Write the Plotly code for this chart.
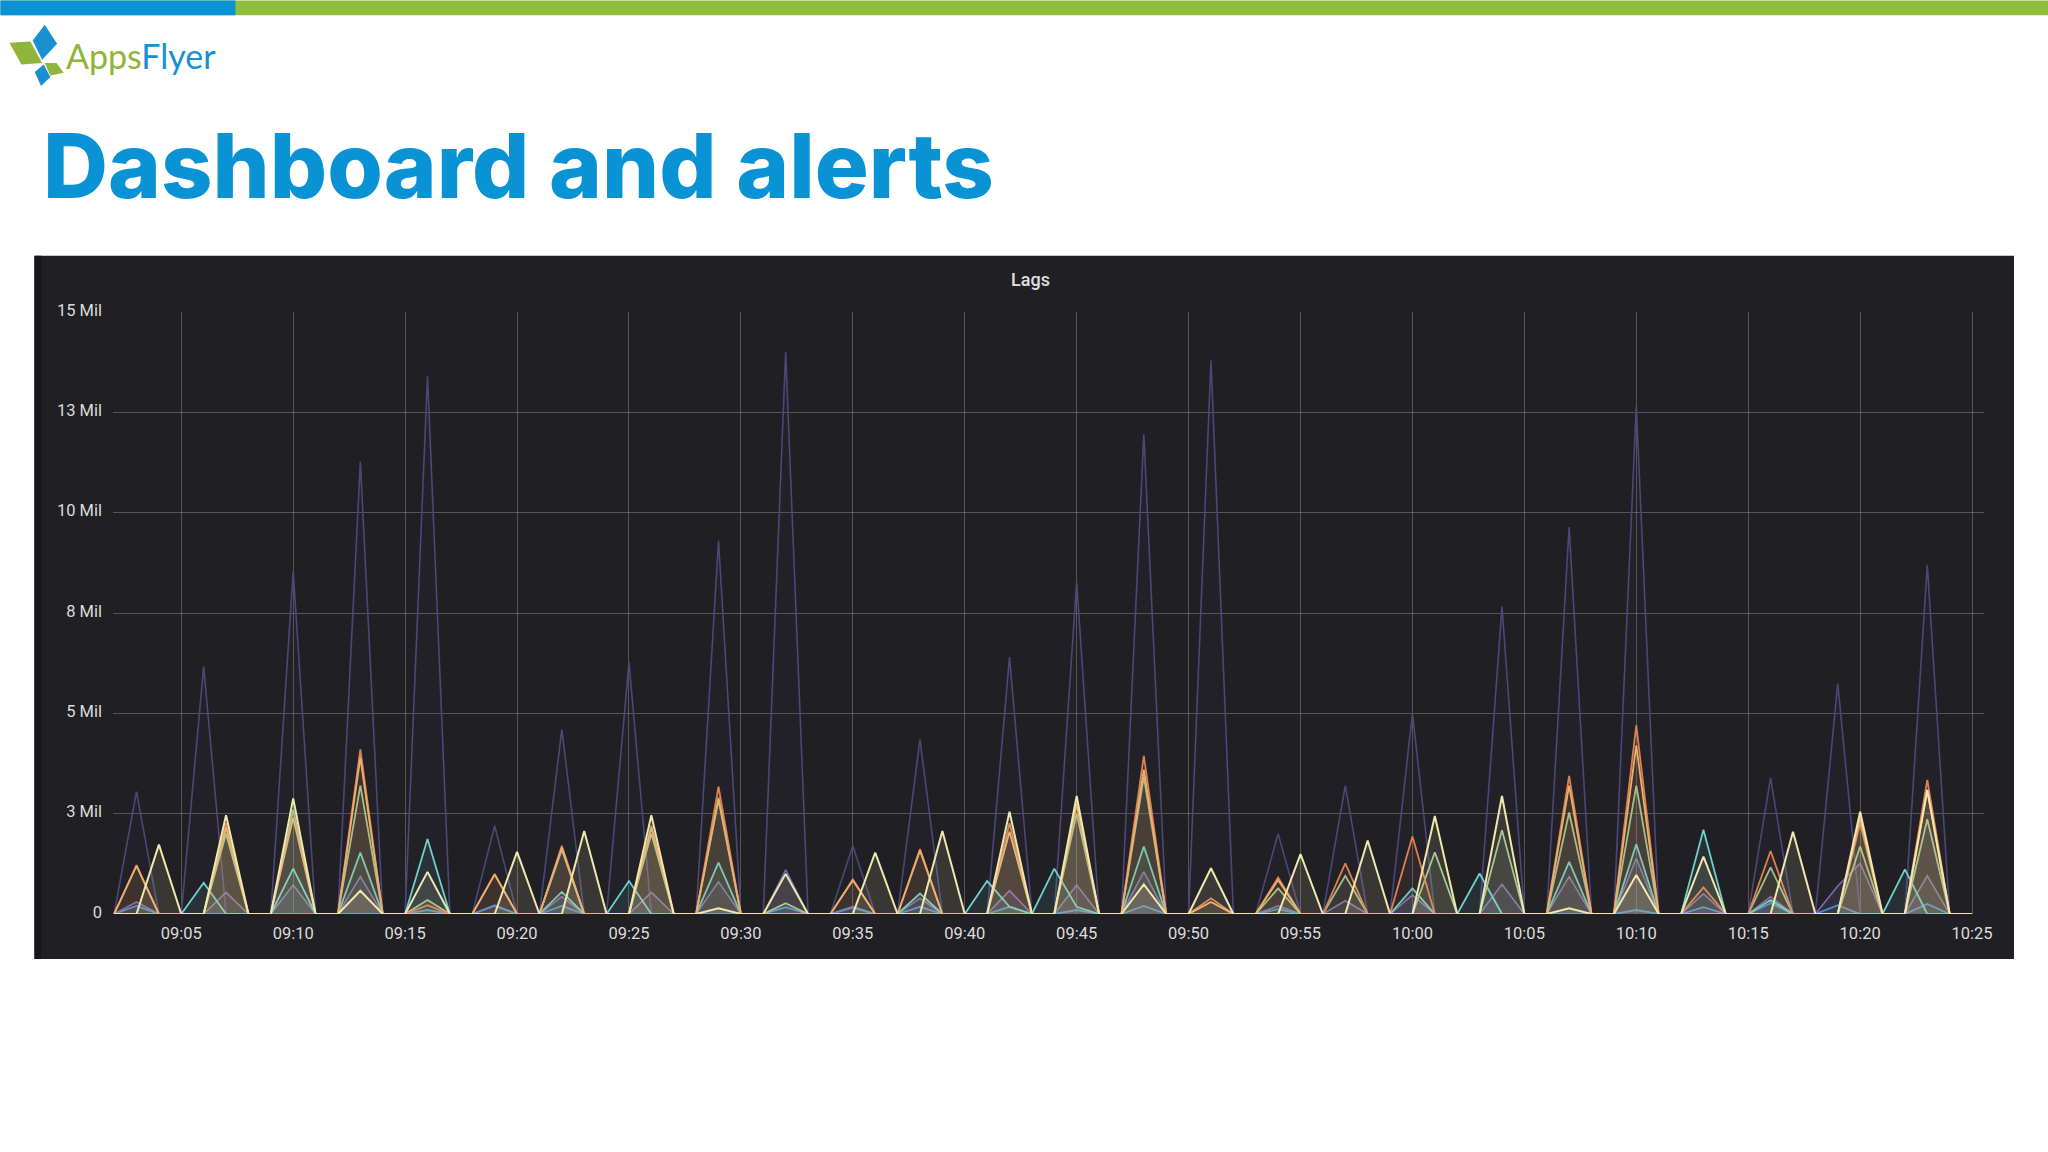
import pandas as pd
import plotly.graph_objects as go

W, H = 2048, 1152
PLOT_L, PLOT_R, PLOT_T, PLOT_B = 112.6, 1984.0, 311.7, 914.0

# ---- data (millions); minutes not listed are zero ----
minutes = pd.date_range("2020-01-01 09:02", "2020-01-01 10:25", freq="min")

purple_at = ["09:03","09:06","09:10","09:13","09:16","09:19","09:22","09:25","09:29","09:32","09:35","09:38","09:42","09:45","09:48","09:51","09:54","09:57","10:00","10:04","10:07","10:10","10:16","10:19","10:23"]
purple_val = [3.05,6.17,8.54,11.27,13.4,2.2,4.6,6.27,9.3,14.0,1.7,4.35,6.4,8.28,11.95,13.8,2.0,3.2,5.0,7.66,9.64,12.66,3.39,5.74,8.7]

violet_at = ["09:03","09:07","09:10","09:13","09:19","09:22","09:26","09:29","09:32","09:35","09:38","09:42","09:45","09:48","09:54","09:57","10:00","10:04","10:07","10:10","10:13","10:16","10:19","10:20","10:23"]
violet_val = [0.3,0.54,0.72,0.93,0.22,0.43,0.54,0.8,1.1,0.15,0.39,0.58,0.72,1.05,0.2,0.33,0.47,0.74,0.93,1.39,0.5,0.43,0.7,1.26,0.95]

blue_at = ["09:03","09:16","09:19","09:22","09:32","09:35","09:38","09:42","09:45","09:48","09:54","10:10","10:13","10:16","10:19","10:23"]
blue_val = [0.2,0.1,0.2,0.2,0.17,0.18,0.18,0.18,0.1,0.2,0.12,0.1,0.17,0.27,0.22,0.25]

cyan_at = ["09:06","09:10","09:13","09:16","09:22","09:25","09:29","09:38","09:41","09:42","09:44","09:45","09:48","10:00","10:03","10:07","10:10","10:13","10:16","10:22"]
cyan_val = [0.78,1.13,1.53,1.87,0.55,0.82,1.28,0.51,0.82,0.18,1.13,0.18,1.68,0.64,1.01,1.3,1.74,2.1,0.35,1.11]

green_at = ["09:07","09:10","09:13","09:16","09:22","09:26","09:29","09:32","09:45","09:48","09:54","09:57","10:01","10:04","10:07","10:10","10:16","10:20","10:23"]
green_val = [2.0,2.6,3.2,0.35,1.6,2.0,2.84,0.27,2.5,3.42,0.64,0.95,1.54,2.09,2.53,3.2,1.16,1.68,2.36]

orange_at = ["09:03","09:07","09:13","09:16","09:19","09:22","09:26","09:29","09:35","09:38","09:42","09:45","09:48","09:51","09:54","09:57","10:00","10:07","10:10","10:13","10:16","10:20","10:23"]
orange_val = [1.22,2.26,4.1,0.22,1.0,1.7,2.2,3.17,0.86,1.62,2.26,2.75,3.94,0.39,0.91,1.26,1.93,3.44,4.7,0.66,1.57,2.26,3.34]

peach_at = ["09:03","09:07","09:10","09:13","09:19","09:22","09:26","09:29","09:35","09:38","09:42","09:45","09:48","09:51","09:54","10:07","10:10","10:20","10:23"]
peach_val = [1.2,2.15,2.4,3.9,0.98,1.65,2.15,2.9,0.84,1.58,2.05,2.75,3.6,0.3,0.85,3.2,4.2,2.4,3.09]

yellow_at = ["09:04","09:07","09:10","09:13","09:16","09:20","09:23","09:26","09:29","09:32","09:36","09:39","09:42","09:45","09:48","09:51","09:55","09:58","10:01","10:04","10:07","10:10","10:13","10:17","10:20","10:23"]
yellow_val = [1.73,2.46,2.88,0.58,1.05,1.55,2.07,2.46,0.14,1.0,1.53,2.07,2.55,2.94,0.74,1.14,1.49,1.83,2.44,2.94,0.14,0.97,1.43,2.05,2.55,3.09]

y_ticks = [0, 2.5, 5, 7.5, 10, 12.5, 15]
y_labels = ["0", "3 Mil", "5 Mil", "8 Mil", "10 Mil", "13 Mil", "15 Mil"]
x_ticks = pd.date_range("2020-01-01 09:05", "2020-01-01 10:25", freq="5min")


def full_series(at, val):
    lookup = dict(zip(at, val))
    return [lookup.get(t.strftime("%H:%M"), 0) for t in minutes]


def hex_rgba(c, a):
    c = c.lstrip("#")
    return f"rgba({int(c[:2],16)},{int(c[2:4],16)},{int(c[4:],16)},{a})"


def px(x):
    return (x - PLOT_L) / (PLOT_R - PLOT_L)


def py(y):
    return (PLOT_B - y) / (PLOT_B - PLOT_T)


series = [
    ("purple", purple_at, purple_val, "#4b4778", 1.6, 0.07),
    ("violet", violet_at, violet_val, "#7a6cad", 1.6, 0.16),
    ("blue", blue_at, blue_val, "#4a90d2", 1.8, 0.12),
    ("cyan", cyan_at, cyan_val, "#6fcfcb", 1.8, 0.10),
    ("green", green_at, green_val, "#a0c490", 1.8, 0.10),
    ("orange", orange_at, orange_val, "#dd8052", 1.8, 0.08),
    ("peach", peach_at, peach_val, "#e9b070", 1.8, 0.08),
    ("yellow", yellow_at, yellow_val, "#f0e8ae", 2.0, 0.12),
]

fig = go.Figure()
for name, at, val, color, width, alpha in series:
    fig.add_trace(go.Scatter(
        x=minutes, y=full_series(at, val), mode="lines", name=name, cliponaxis=False,
        line=dict(color=color, width=width), fill="tozeroy",
        fillcolor=hex_rgba(color, alpha), hoverinfo="skip"))


def rect(x0, y0, x1, y1, color):
    return dict(type="rect", xref="paper", yref="paper", layer="below",
                x0=px(x0), x1=px(x1), y0=py(y0), y1=py(y1),
                fillcolor=color, line=dict(width=0))


def poly(points, color):
    path = "M " + " L ".join(f"{px(a):.5f},{py(b):.5f}" for a, b in points) + " Z"
    return dict(type="path", xref="paper", yref="paper", layer="above",
                path=path, fillcolor=color, line=dict(width=0))


BLUE, GREEN = "#1a8fd1", "#8fb53a"
shapes = [
    rect(0, 0, W, 14.7, "#8fbe3f"),
    rect(0, 0, 235, 14.7, "#0a93d4"),
    rect(34, 255.5, 2014, 959, "#201f23"),
    rect(34, 255.5, 41, 959, "#18181a"),
    poly([(44.3, 24.3), (56.7, 43.3), (41.7, 59.3), (32.3, 40)], BLUE),
    poly([(9, 42.3), (30, 41), (41.7, 62.7), (21, 64)], GREEN),
    poly([(44.3, 62.7), (56, 62.7), (63.3, 72.3), (50, 75)], GREEN),
    poly([(43.3, 64), (50, 76.7), (40.7, 85.7), (34.3, 71.7)], BLUE),
]

annotations = [
    dict(text="Dashboard and alerts", xref="paper", yref="paper",
         x=px(41), y=py(165), xanchor="left", yanchor="middle", showarrow=False,
         font=dict(family="Inter", size=90, color="#0a93d4", weight=800)),
    dict(text=f"<span style='color:{GREEN}'>Apps</span><span style='color:{BLUE}'>Flyer</span>",
         xref="paper", yref="paper", x=px(64), y=py(55), xanchor="left", yanchor="middle",
         showarrow=False, font=dict(family="Lato", size=34, color=BLUE, weight=400)),
    dict(text="Lags", xref="paper", yref="paper", x=px(1030), y=py(279),
         xanchor="center", yanchor="middle", showarrow=False,
         font=dict(family="Roboto", size=18, color="#e0e0e1", weight=500)),
]

grid = "rgba(255,255,255,0.24)"
fig.update_layout(
    width=W, height=H, autosize=False, showlegend=False,
    paper_bgcolor="#ffffff", plot_bgcolor="rgba(0,0,0,0)",
    margin=dict(l=PLOT_L, r=W - PLOT_R, t=PLOT_T, b=H - PLOT_B, pad=0, autoexpand=False),
    shapes=shapes, annotations=annotations,
    xaxis=dict(type="date", range=["2020-01-01 09:01:57", "2020-01-01 10:25:32"],
               tickmode="array", tickvals=list(x_ticks),
               ticktext=[t.strftime("%H:%M") for t in x_ticks],
               showgrid=True, gridcolor=grid, gridwidth=1.3, zeroline=False, showline=False,
               ticks="", ticklabelstandoff=7,
               tickfont=dict(family="Roboto", size=16.5, color="#dcdcdd")),
    yaxis=dict(range=[0, 15], tickmode="array", tickvals=y_ticks, ticktext=y_labels,
               showgrid=True, gridcolor=grid, gridwidth=1.3, zeroline=False, showline=False,
               ticks="", ticklabelstandoff=10, ticklabelshift=-2,
               tickfont=dict(family="Roboto", size=16.5, color="#dcdcdd")),
)

fig.write_html("out.html", config={"displayModeBar": False},
               post_script="document.body.style.margin='0';document.body.style.overflow='hidden';")
